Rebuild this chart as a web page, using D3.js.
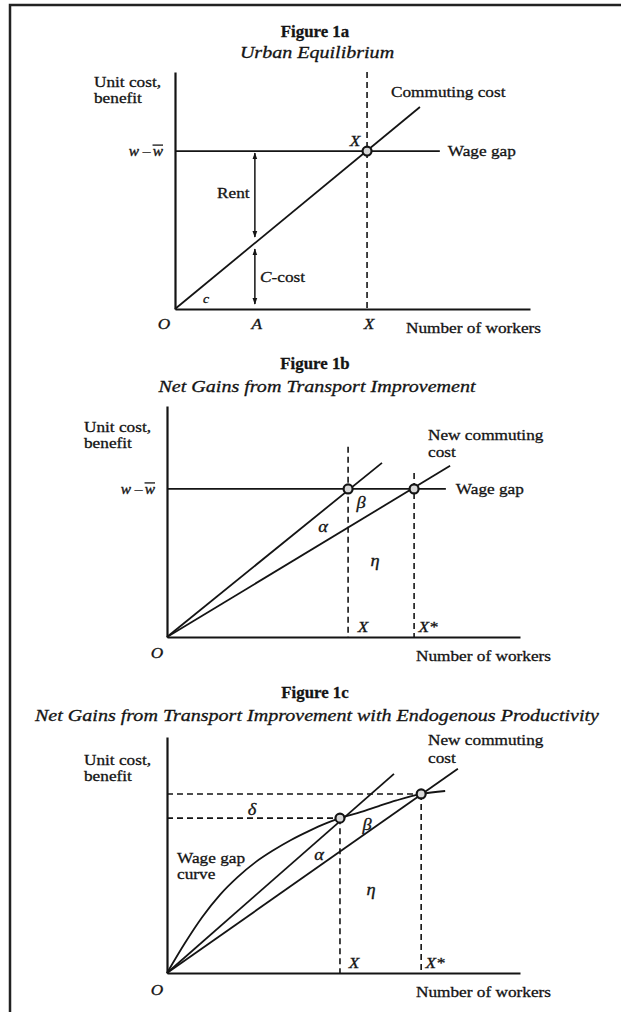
<!DOCTYPE html>
<html>
<head>
<meta charset="utf-8">
<script src="https://cdn.jsdelivr.net/npm/d3@7"></script>
<style>
  body { margin: 0; background: #fff; }
  text { font-family: "Liberation Serif", "Times New Roman", serif; fill: #141414; stroke: #141414; stroke-width: 0.3; }
</style>
</head>
<body>
<svg id="fig" width="621" height="1012"></svg>
<script>
// ---------- Figure 1a: urban equilibrium ----------
const wageGapA = 53.3;
const wageGapEndA = 74.6;
const commutingA = [[0, 0], [69, 68.2]];
const equilibriumA = 54.1;   // X
const pointA = 22.5;         // A
const xLabelsA = [["O", 0], ["A", 22.5], ["X", 54.1]];

// ---------- Figure 1b: transport improvement ----------
const wageGapB = 50;
const wageGapEndB = 79;
const oldCommutingB = [[0, 0], [60.9, 58.8]];
const newCommutingB = [[0, 0], [80.2, 57.8]];
const equilibriaB = [51.3, 70];      // X, X*
const dashTopsB = [64.2, 55.4];

// ---------- Figure 1c: endogenous productivity ----------
const oldCommutingC = [[0, 0], [64.3, 67.5]];
const newCommutingC = [[0, 0], [82.4, 69.2]];
const wageCurveC = [[0, 0], [5, 10], [10, 19], [15, 26.5], [20, 32.5], [25, 37.5], [30, 41.5],
  [35, 45], [40, 48], [45, 50.7], [49, 52.5], [55, 54.6], [60, 56.6], [65, 58.5], [72, 60.7], [78.8, 61.7]];
const equilibriaC = [[49, 52.5], [72, 60.7]];

const INK = "#141414";
const svg = d3.select("#fig");

// marker for the double arrows in figure 1a
svg.append("defs").append("marker")
  .attr("id", "head")
  .attr("viewBox", "0 0 10 10")
  .attr("refX", 9).attr("refY", 5)
  .attr("markerWidth", 7).attr("markerHeight", 7)
  .attr("markerUnits", "userSpaceOnUse")
  .attr("orient", "auto-start-reverse")
  .append("path").attr("d", "M0,1.5 L10,5 L0,8.5 Z").attr("fill", INK);

// outer frame (only top and left edges show)
svg.append("path")
  .attr("d", "M10,1012 L10,5 L621,5")
  .attr("fill", "none").attr("stroke", "#222").attr("stroke-width", 2.5);

// text helper: the scan is a bit wide, so stretch type horizontally
function txt(g, x, y, s, o = {}) {
  const t = g.append("text")
    .attr("transform", `translate(${x},${y}) scale(${o.sx || 1.15},1)`)
    .attr("font-size", o.size || 15)
    .attr("text-anchor", o.anchor || "start")
    .attr("font-style", o.italic ? "italic" : null)
    .attr("font-weight", o.bold ? "bold" : null)
    .text(s);
  return t;
}

function heading(g, yTitle, yTitle2, title, sub) {
  txt(g, 315, yTitle, title, { bold: true, size: 16.5, anchor: "middle", sx: 1.02 });
  txt(g, 317, yTitle2, sub, { italic: true, size: 17, anchor: "middle", sx: 1.18 });
}

function makePanel(box) {
  const g = svg.append("g");
  const x = d3.scaleLinear().domain([0, 100]).range([box.left, box.right]);
  const y = d3.scaleLinear().domain([0, box.yMax]).range([box.bottom, box.top]);

  g.append("g").attr("transform", `translate(0,${box.bottom})`)
    .call(d3.axisBottom(x).tickValues([]).tickSizeOuter(0))
    .call(a => a.select(".domain").attr("stroke", INK).attr("stroke-width", 2.2));
  g.append("g").attr("transform", `translate(${box.left},0)`)
    .call(d3.axisLeft(y).tickValues([]).tickSizeOuter(0))
    .call(a => a.select(".domain").attr("stroke", INK).attr("stroke-width", 2.2));
  return { g, x, y };
}

const line = (x, y) => d3.line().x(d => x(d[0])).y(d => y(d[1]));

function solid(p, pts, curve) {
  const l = line(p.x, p.y);
  if (curve) l.curve(curve);
  p.g.append("path").attr("d", l(pts))
    .attr("fill", "none").attr("stroke", INK).attr("stroke-width", 1.8);
}
function dashed(p, pts) {
  p.g.append("path").attr("d", line(p.x, p.y)(pts))
    .attr("fill", "none").attr("stroke", INK).attr("stroke-width", 1.6)
    .attr("stroke-dasharray", "6,4");
}
function dot(p, px, py) {
  p.g.append("circle").attr("cx", p.x(px)).attr("cy", p.y(py)).attr("r", 4.5)
    .attr("fill", "#d8d8d8").attr("stroke", INK).attr("stroke-width", 2.2);
}
function wLabel(p, xEnd, yc) {
  const tail = txt(p.g, xEnd, yc + 5, "w", { italic: true, size: 14, anchor: "end", sx: 1.1 });
  const b = tail.node().getBBox();
  const w = b.width * 1.1;
  p.g.append("line").attr("x1", xEnd - w).attr("x2", xEnd)
    .attr("y1", yc - 6).attr("y2", yc - 6).attr("stroke", INK).attr("stroke-width", 1.3);
  txt(p.g, xEnd - w - 2, yc + 5, "w \u2013 ", { italic: true, size: 14, anchor: "end", sx: 1.1 });
}
function yLabel(p, x0, y0) {
  txt(p.g, x0, y0, "Unit cost,");
  txt(p.g, x0, y0 + 16, "benefit");
}

// ================= Figure 1a =================
heading(svg, 37, 58, "Figure 1a", "Urban Equilibrium");
const pa = makePanel({ left: 175, right: 530, bottom: 309, top: 72, yMax: 80 });
yLabel(pa, 94, 87);
solid(pa, [[0, wageGapA], [wageGapEndA, wageGapA]]);
solid(pa, commutingA);
dashed(pa, [[equilibriumA, 80], [equilibriumA, 0]]);
dot(pa, equilibriumA, wageGapA);

// rent / commuting-cost arrows at A
const slopeA = commutingA[1][1] / commutingA[1][0];
const costAtA = pointA * slopeA;
pa.g.append("line")
  .attr("x1", pa.x(pointA)).attr("x2", pa.x(pointA))
  .attr("y1", pa.y(wageGapA) + 2).attr("y2", pa.y(costAtA) - 6)
  .attr("stroke", INK).attr("stroke-width", 1.5)
  .attr("marker-start", "url(#head)").attr("marker-end", "url(#head)");
pa.g.append("line")
  .attr("x1", pa.x(pointA)).attr("x2", pa.x(pointA))
  .attr("y1", pa.y(costAtA) + 6).attr("y2", pa.y(0) - 5)
  .attr("stroke", INK).attr("stroke-width", 1.5)
  .attr("marker-start", "url(#head)").attr("marker-end", "url(#head)");

wLabel(pa, 163, pa.y(wageGapA));
txt(pa.g, pa.x(wageGapEndA) + 8, pa.y(wageGapA) + 5, "Wage gap");
txt(pa.g, 391, 97, "Commuting cost");
txt(pa.g, pa.x(equilibriumA) - 12, pa.y(wageGapA) - 5, "X", { italic: true, anchor: "middle" });
xLabelsA.forEach(([s, v]) => txt(pa.g, pa.x(v) + (v === 0 ? -11 : 2), 329, s, { italic: true, anchor: "middle" }));
txt(pa.g, 406, 333, "Number of workers");
txt(pa.g, 217, 198, "Rent");
const cc = txt(pa.g, 260, 282, "");
cc.append("tspan").attr("font-style", "italic").text("C");
cc.append("tspan").text("-cost");
txt(pa.g, 203, 303, "c", { italic: true, size: 12 });

// ================= Figure 1b =================
heading(svg, 369, 392, "Figure 1b", "Net Gains from Transport Improvement");
const pb = makePanel({ left: 167, right: 520, bottom: 637, top: 406, yMax: 78 });
yLabel(pb, 84, 432);
solid(pb, [[0, wageGapB], [wageGapEndB, wageGapB]]);
solid(pb, oldCommutingB);
solid(pb, newCommutingB);
equilibriaB.forEach((v, i) => dashed(pb, [[v, dashTopsB[i]], [v, 0]]));
equilibriaB.forEach(v => dot(pb, v, wageGapB));
wLabel(pb, 155, pb.y(wageGapB));
txt(pb.g, pb.x(wageGapEndB) + 10, pb.y(wageGapB) + 5, "Wage gap");
txt(pb.g, 428, 440, "New commuting");
txt(pb.g, 428, 457, "cost");
txt(pb.g, 361, 508, "\u03b2", { italic: true, anchor: "middle", size: 16 });
txt(pb.g, 323, 532, "\u03b1", { italic: true, anchor: "middle", size: 16 });
txt(pb.g, 375, 566, "\u03b7", { italic: true, anchor: "middle", size: 16 });
txt(pb.g, pb.x(equilibriaB[0]) + 15, 632, "X", { italic: true, anchor: "middle" });
txt(pb.g, pb.x(equilibriaB[1]) + 14, 632, "X*", { italic: true, anchor: "middle" });
txt(pb.g, 157, 658, "O", { italic: true, anchor: "middle" });
txt(pb.g, 416, 661, "Number of workers");

// ================= Figure 1c =================
heading(svg, 698, 721, "Figure 1c", "Net Gains from Transport Improvement with Endogenous Productivity");
const pc = makePanel({ left: 167, right: 520, bottom: 973, top: 737, yMax: 80 });
yLabel(pc, 84, 765);
equilibriaC.forEach(([ex, ey]) => {
  dashed(pc, [[0, ey], [ex, ey]]);
  dashed(pc, [[ex, ey], [ex, 0]]);
});
solid(pc, oldCommutingC);
solid(pc, newCommutingC);
solid(pc, wageCurveC, d3.curveMonotoneX);
equilibriaC.forEach(([ex, ey]) => dot(pc, ex, ey));
txt(pc.g, 428, 745, "New commuting");
txt(pc.g, 428, 763, "cost");
txt(pc.g, 252, 815, "\u03b4", { italic: true, anchor: "middle", size: 16 });
txt(pc.g, 367, 830, "\u03b2", { italic: true, anchor: "middle", size: 16 });
txt(pc.g, 319, 860, "\u03b1", { italic: true, anchor: "middle", size: 16 });
txt(pc.g, 371, 895, "\u03b7", { italic: true, anchor: "middle", size: 16 });
txt(pc.g, 177, 863, "Wage gap");
txt(pc.g, 177, 879, "curve");
txt(pc.g, pc.x(equilibriaC[0][0]) + 14, 968, "X", { italic: true, anchor: "middle" });
txt(pc.g, pc.x(equilibriaC[1][0]) + 14, 968, "X*", { italic: true, anchor: "middle" });
txt(pc.g, 157, 995, "O", { italic: true, anchor: "middle" });
txt(pc.g, 416, 997, "Number of workers");
</script>
</body>
</html>
